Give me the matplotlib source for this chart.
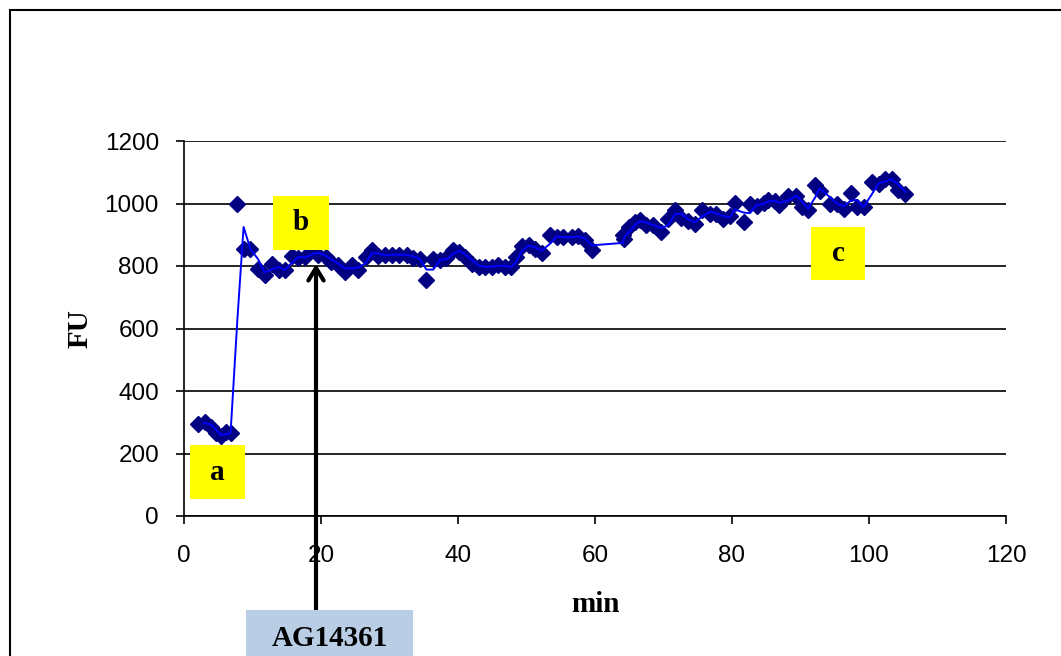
import numpy as np
import matplotlib.pyplot as plt
from matplotlib.patches import Rectangle

# readings (minutes, fluorescence units)
minutes = [2, 3, 4, 4.7, 5.4, 6.1, 6.8, 7.8, 8.7, 9.7, 10.8, 11.8, 12.8, 13.8, 14.7,
           15.7, 16.7, 17.7, 18.9, 19.6, 20.8, 21.5, 22.5, 23.5, 24.5, 25.4, 26.5,
           27.4, 28.3, 29.3, 30.3, 31.4, 32.5, 33.5, 34.4, 35.4, 36.4, 37.4, 38.3,
           39.3, 40.1, 41, 42, 43, 43.9, 44.9, 45.9, 46.9, 47.8, 48.5, 49.3, 50.3,
           51.2, 52.2, 53.4, 54.4, 55.4, 56.6, 57.5, 58.5, 59.5, 64.1, 64.3, 64.9,
           65.9, 66.6, 67.5, 68.5, 69.7, 70.7, 71.7, 72.6, 73.6, 74.6, 75.6, 76.8,
           77.7, 78.7, 79.7, 80.4, 81.7, 82.6, 83.6, 84.6, 85.3, 86.3, 86.9, 88.2,
           89.4, 90.2, 91.1, 92.1, 92.8, 94.3, 95.3, 96.3, 97.3, 98.2, 99.2, 100.4,
           101.4, 102.3, 103.3, 104.3, 105.3]
fu = [295, 300, 285, 265, 255, 268, 265, 997, 853, 855, 790, 770, 808, 787, 787,
      832, 826, 828, 850, 835, 828, 814, 803, 782, 803, 787, 830,
      850, 832, 836, 836, 836, 836, 825, 822, 755, 822, 818, 825,
      852, 846, 830, 808, 796, 798, 798, 803, 798, 796, 830, 865, 866,
      855, 843, 898, 892, 892, 892, 896, 882, 850, 898, 888, 925,
      940, 948, 930, 932, 910, 952, 980, 955, 944, 936, 980, 968,
      968, 952, 960, 1002, 940, 998, 993, 1003, 1010, 1008, 995, 1025,
      1025, 988, 978, 1058, 1040, 1000, 1000, 982, 1035, 988, 990, 1068,
      1062, 1078, 1078, 1043, 1032]

x = np.array(minutes)
y = np.array(fu)
# 2 period moving average trendline
ma = (y[1:] + y[:-1]) / 2.0

fig = plt.figure(figsize=(10.61, 6.56), dpi=100)
ax = fig.add_axes([184 / 1061, 140 / 656, 822 / 1061, 375 / 656])

ax.plot(x[1:], ma, color="#0000FF", lw=1.4, zorder=3)
ax.plot(x, y, "D", color="#000080", ms=8.5, mec="#000080", zorder=2)

ax.set_xlim(0, 120)
ax.set_ylim(0, 1200)
ax.set_xticks(range(0, 121, 20))
ax.set_yticks(range(0, 1201, 200))
ax.grid(axis="y", color="black", lw=1.2)
ax.set_axisbelow(True)
for s in ["top", "right"]:
    ax.spines[s].set_visible(False)
ax.spines["left"].set_linewidth(1.2)
ax.spines["bottom"].set_linewidth(1.2)
ax.tick_params(direction="out", length=6, width=1.2, labelsize=17.5, pad=12)
ax.tick_params(axis="x", pad=15)
for lab in ax.get_xticklabels() + ax.get_yticklabels():
    lab.set_family("Liberation Sans")

serif = {"family": "Liberation Serif", "weight": "bold", "size": 21}
ax.set_xlabel("min", fontdict=serif, labelpad=17)
ax.set_ylabel("FU", fontdict=serif, labelpad=8)

# outer chart frame
fig.patches.append(Rectangle((10 / 1061, -20 / 656), 1.1, 666 / 656, transform=fig.transFigure,
                             fill=False, ec="black", lw=1.5))

def tag(x0, y0, x1, y1, text, color):
    fig.patches.append(Rectangle((x0 / 1061, 1 - y1 / 656), (x1 - x0) / 1061, (y1 - y0) / 656,
                                 transform=fig.transFigure, fc=color, ec="none", zorder=5))
    fig.text((x0 + x1) / 2 / 1061, 1 - (y0 + y1) / 2 / 656, text, ha="center", va="center",
             zorder=6, **serif)

tag(190, 445, 245, 499, "a", "#FFFF00")
tag(273, 196, 329, 250, "b", "#FFFF00")
tag(811, 227, 865, 280, "c", "#FFFF00")

# agonist addition arrow
fig.patches.append(Rectangle((246 / 1061, 0), 167 / 1061, 46 / 656, transform=fig.transFigure,
                             fc="#B9CDE5", ec="none", zorder=5))
fig.text(330 / 1061, 1 - 638 / 656, "AG14361", ha="center", va="center", zorder=6, **serif)
ax.annotate("", xy=(316 / 1061, 1 - 264 / 656), xytext=(316 / 1061, 1 - 611 / 656),
            xycoords="figure fraction", textcoords="figure fraction",
            arrowprops=dict(arrowstyle="->,head_length=0.9,head_width=0.55", color="black", lw=3,
                            shrinkA=0, shrinkB=0), zorder=7)

fig.savefig("out.png", dpi=100)
